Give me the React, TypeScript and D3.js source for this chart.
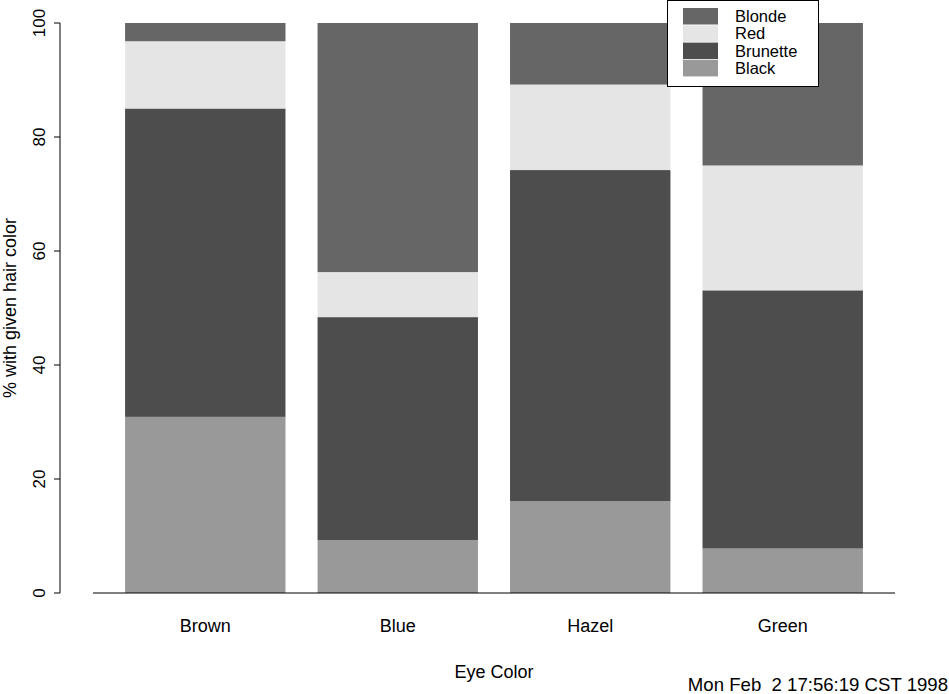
import React from 'react';
import * as d3 from 'd3';

const eyeColors = ['Brown', 'Blue', 'Hazel', 'Green'];
const hairColors = ['Black', 'Brunette', 'Red', 'Blonde'];

// percent of each eye colour group with the given hair colour
const blackPct = [30.9, 9.3, 16.1, 7.8];
const brunettePct = [54.1, 39.1, 58.1, 45.3];
const redPct = [11.8, 7.9, 15.0, 21.9];
const blondePct = [3.2, 43.7, 10.8, 25.0];

const yTicks = [0, 20, 40, 60, 80, 100];
const legendOrder = ['Blonde', 'Red', 'Brunette', 'Black'];
const stamp = 'Mon Feb  2 17:56:19 CST 1998';

const fills: Record<string, string> = {
  Black: '#999999',
  Brunette: '#4d4d4d',
  Red: '#e5e5e5',
  Blonde: '#666666',
};

const W = 949;
const H = 694;
const font = '"Liberation Sans", Arial, Helvetica, sans-serif';

export default function App() {
  // R barplot units: bar i spans 0.2 + 1.2*i .. 1.2 + 1.2*i
  const x = d3.scaleLinear().domain([0, 5]).range([93, 895]);
  const y = d3.scaleLinear().domain([0, 100]).range([593, 23]);

  const rows = eyeColors.map((eye, i) => ({
    eye,
    Black: blackPct[i],
    Brunette: brunettePct[i],
    Red: redPct[i],
    Blonde: blondePct[i],
  }));
  const series = d3.stack<any>().keys(hairColors)(rows);

  const barLeft = (i: number) => 0.2 + 1.2 * i;

  return (
    <>
      <style>{`body{margin:0}`}</style>
      <svg width={W} height={H} style={{ display: 'block', background: '#fff' }} fontFamily={font}>
        {/* bars */}
        {series.map((s) => (
          <g key={s.key} fill={fills[s.key]}>
            {s.map((d, i) => (
              <rect
                key={i}
                x={x(barLeft(i))}
                width={x(barLeft(i) + 1) - x(barLeft(i))}
                y={y(Math.min(d[1], 100))}
                height={y(d[0]) - y(Math.min(d[1], 100))}
              />
            ))}
          </g>
        ))}

        {/* x axis line */}
        <line x1={x(0)} x2={x(5)} y1={y(0)} y2={y(0)} stroke="#000" strokeWidth={1} />
        {eyeColors.map((e, i) => (
          <text key={e} x={x(barLeft(i) + 0.5)} y={632} textAnchor="middle" fontSize={18}>
            {e}
          </text>
        ))}
        <text x={(x(0) + x(5)) / 2} y={678} textAnchor="middle" fontSize={18}>
          Eye Color
        </text>

        {/* y axis */}
        <line x1={60} x2={60} y1={y(0)} y2={y(100)} stroke="#000" strokeWidth={1} />
        {yTicks.map((t) => (
          <g key={t}>
            <line x1={54} x2={60} y1={y(t)} y2={y(t)} stroke="#000" strokeWidth={1} />
            <text
              transform={`translate(45,${y(t)}) rotate(-90)`}
              textAnchor="middle"
              fontSize={17}
            >
              {t}
            </text>
          </g>
        ))}
        <text
          transform={`translate(16,${(y(0) + y(100)) / 2}) rotate(-90)`}
          textAnchor="middle"
          fontSize={18}
        >
          % with given hair color
        </text>

        {/* legend */}
        <rect x={667.5} y={0.5} width={151} height={86} fill="#fff" stroke="#000" strokeWidth={1} />
        {legendOrder.map((h, i) => (
          <g key={h}>
            <rect x={683} y={8 + i * 17.3} width={35} height={16.5} fill={fills[h]} />
            <text x={735} y={22 + i * 17.3} fontSize={16.5}>
              {h}
            </text>
          </g>
        ))}

        <text x={948} y={691} textAnchor="end" fontSize={18.6} style={{ whiteSpace: 'pre' }}>
          {stamp}
        </text>
      </svg>
    </>
  );
}
